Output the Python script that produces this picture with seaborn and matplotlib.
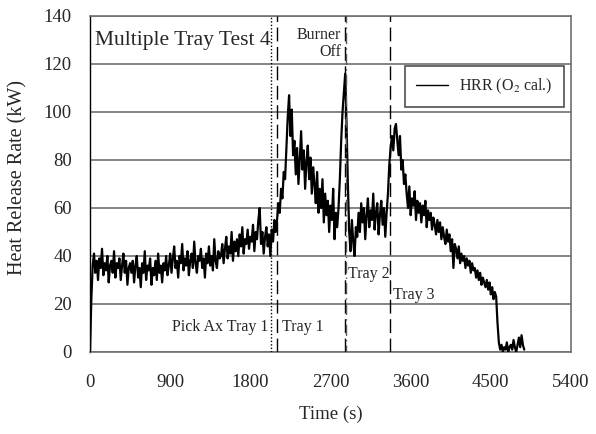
import numpy as np
import pandas as pd
import matplotlib
matplotlib.use("Agg")
import matplotlib.pyplot as plt
import seaborn as sns

# ---- data (HRR, kW), sampled every 15 s from t = 0 s ----
step_s = 15
seg_a = [0, 22, 36, 41, 33, 38, 30, 39, 35, 43, 32, 37, 34, 40, 29, 36, 38, 33, 42, 31,
         37, 35, 39, 30, 36, 41, 33, 38, 28, 35, 37]
seg_b = [33, 38, 29, 36, 40, 31, 35, 27, 37, 33, 42, 30, 36, 34, 39, 28, 35, 32, 38, 30,
         41, 33, 36, 29, 37, 34, 40, 32]
seg_c = [36, 41, 33, 39, 44, 35, 38, 31, 40, 37, 45, 34, 39, 36, 42, 32, 38, 41, 35, 46,
         37, 33, 40, 38, 43, 35, 39, 31, 41, 37, 44, 36, 40, 34, 47, 38, 35, 42, 39]
seg_d = [40, 45, 37, 43, 48, 39, 44, 41, 50, 38, 46, 42, 47, 40, 49, 44, 52, 41, 47, 45,
         51, 43, 48, 46, 53, 42, 50, 47, 55, 60]
seg_e = [45, 50, 41, 48, 52, 44, 49, 40, 51, 46, 55, 50]
seg_f = [55, 62, 58, 68, 64, 75, 72, 85]
seg_g = [98, 107, 90, 101]
seg_h = [82, 88, 74, 85, 70, 80, 92, 76, 84, 68, 79, 86, 72, 81, 66, 77]
seg_i = [70, 62, 75, 58, 68, 60, 72, 54, 66, 57, 63, 50, 61, 55, 68, 47, 58, 52, 60]
seg_j = [72, 88, 100, 108, 116, 95, 70]
seg_k = [50, 42, 55, 46, 40, 52, 48]
seg_l = [58, 50, 62, 54, 60, 47, 57, 64, 52, 59, 55, 66, 51, 58, 62, 49, 57, 63, 53, 60,
         48, 58]
seg_m = [66, 78, 85, 90, 84, 93, 95]
seg_n = [88, 82, 90, 76, 80, 70, 74]
seg_o = [66, 60, 69, 57, 64, 61, 67, 55, 63, 58, 62, 54, 61, 57, 63, 52, 59]
seg_p = [55, 58, 51, 56, 53, 49, 55, 50, 54, 47, 52, 48, 45, 51, 46, 49, 42, 47, 35, 45]
seg_q = [43, 39, 44, 37, 41, 38, 40, 35, 39, 36, 38, 33, 37, 34, 35, 31, 34, 30, 33, 28,
         31, 29, 27, 30, 26, 29, 24, 27, 22, 25, 23]
seg_r = [12, 4, 1, 3, 0, 2, 1, 4, 0, 2, 3, 1, 5, 2, 0, 3, 6, 2, 7, 3, 1]

hrr = (seg_a + seg_b + seg_c + seg_d + seg_e + seg_f + seg_g + seg_h + seg_i + seg_j +
       seg_k + seg_l + seg_m + seg_n + seg_o + seg_p + seg_q + seg_r)
time_s = np.arange(len(hrr)) * step_s

x_ticks = [0, 900, 1800, 2700, 3600, 4500, 5400]
y_ticks = [0, 20, 40, 60, 80, 100, 120, 140]

event_dotted = 2035          # Pick Ax Tray 1
event_dashed = [2100, 3365]  # Tray 1, Tray 3
burner_off = [2860, 2878]    # Burner off / Tray 2

df = pd.DataFrame({"Time (s)": time_s, "HRR": hrr})

# ---- style ----
sns.set_style("white")
plt.rcParams["font.family"] = ["Liberation Serif", "DejaVu Serif"]
plt.rcParams["mathtext.fontset"] = "stix"

fig = plt.figure(figsize=(5.96, 4.34), dpi=100)
ax = fig.add_axes([90 / 596, 1 - 352 / 434, 481 / 596, 336 / 434])

grid_c = "#707070"
ax.set_axisbelow(True)
for y in y_ticks:
    ax.axhline(y, color=grid_c, lw=1.2, zorder=0)

sns.lineplot(data=df, x="Time (s)", y="HRR", ax=ax, color="black", lw=1.6,
             label="HRR (O$_2$ cal.)", zorder=3)

ax.axvline(event_dotted, color="black", lw=1.0, ls=(0, (1, 1.5)), zorder=4)
for xv in event_dashed:
    ax.axvline(xv, color="black", lw=1.0, ls=(0, (10, 4)), zorder=4)
ax.axvline(burner_off[0], color="black", lw=1.0, ls=(0, (10, 4)), zorder=4)
ax.axvline(burner_off[1], color="#555555", lw=1.0, ls=(3, (8, 3, 1, 3)), zorder=4)

ax.set_xlim(0, 5400)
ax.set_ylim(0, 140)
ax.set_xticks(x_ticks)
ax.set_yticks(y_ticks)
ax.tick_params(axis="both", labelsize=13.5, direction="out", length=4, width=1,
               color="black")
ax.tick_params(axis="x", pad=12)
ax.tick_params(axis="y", pad=9)

for s in ["top", "right", "bottom"]:
    ax.spines[s].set_color(grid_c)
    ax.spines[s].set_linewidth(1.2)
ax.spines["left"].set_color("black")
ax.spines["left"].set_linewidth(1.0)

ax.set_xlabel("Time (s)", fontsize=13.5)
ax.set_ylabel("Heat Release Rate (kW)", fontsize=14.5)
ax.xaxis.label.set_va("center")
ax.yaxis.label.set_va("center")
ax.xaxis.set_label_coords(0.5, -(414 - 352) / 336)
ax.yaxis.set_label_coords((18 - 90) / 481, 0.52)

# ---- annotations ----
ax.text(60, 130, "Multiple Tray Test 4", fontsize=15.5, ha="left", va="center")
ax.text(2820, 128.5, "Burner\nOff", fontsize=11.5, ha="right", va="center",
        multialignment="right", linespacing=1.05)
ax.text(2002, 10.4, "Pick Ax Tray 1", fontsize=11.5, ha="right", va="center")
ax.text(2160, 10.4, "Tray 1", fontsize=11.5, ha="left", va="center")
ax.text(2895, 32.5, "Tray 2", fontsize=11.5, ha="left", va="center")
ax.text(3400, 23.8, "Tray 3", fontsize=11.5, ha="left", va="center")

leg = ax.legend(loc="upper right", bbox_to_anchor=(0.985, 0.852), fontsize=11.5,
                frameon=True, fancybox=False, shadow=False, borderpad=0.7,
                handlelength=2.0, handletextpad=0.7, borderaxespad=0)
leg.get_frame().set_edgecolor("#505050")
leg.get_frame().set_linewidth(1.2)
leg.get_frame().set_alpha(1)
for h in leg.get_lines():
    h.set_linewidth(1.0)

fig.savefig("out.png", dpi=100, facecolor="white")
